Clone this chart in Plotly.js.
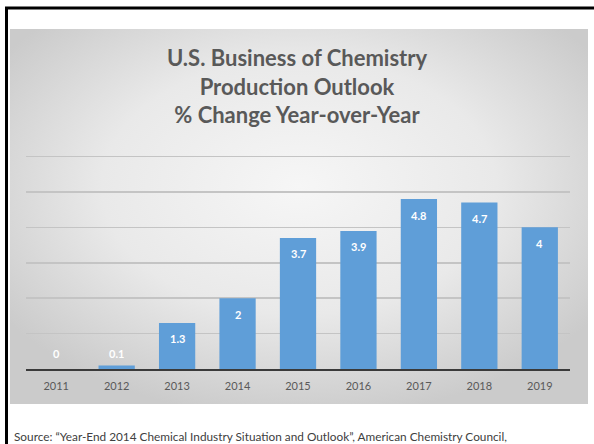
<!DOCTYPE html>
<html>
<head>
<meta charset="utf-8">
<script src="https://cdn.plot.ly/plotly-3.0.1.min.js"></script>
<style>
  html, body { margin: 0; padding: 0; background: #ffffff; }
  #chart { width: 594px; height: 444px; }
</style>
</head>
<body>
<div id="chart"></div>
<script>
// ---- data ----
const years = ['2011', '2012', '2013', '2014', '2015', '2016', '2017', '2018', '2019'];
const pctChange = [0, 0.1, 1.3, 2, 3.7, 3.9, 4.8, 4.7, 4];
const labels = ['0', '0.1', '1.3', '2', '3.7', '3.9', '4.8', '4.7', '4'];
const titleLines = ['U.S. Business of Chemistry', 'Production Outlook', '% Change Year-over-Year'];
const sourceText = 'Source: \u201cYear-End 2014 Chemical Industry Situation and Outlook\u201d, American Chemistry Council,';

// ---- geometry ----
const W = 594, H = 444;
const M = { l: 26, r: 24, t: 153, b: 75 };
const plotW = W - M.l - M.r, plotH = H - M.t - M.b;
const px2x = px => (px - M.l) / plotW;
const py2y = py => (H - M.b - py) / plotH;

const FONT = 'Lato, "Open Sans", sans-serif';
const barColor = '#5f9ed8';

const gradSvg = '<svg xmlns="http://www.w3.org/2000/svg" width="578" height="375" viewBox="0 0 578 375" preserveAspectRatio="none">' +
  '<defs><radialGradient id="g" cx="50%" cy="42%" r="62%">' +
  '<stop offset="0%" stop-color="#f6f6f6"/><stop offset="55%" stop-color="#e9e9e9"/><stop offset="100%" stop-color="#cbcbcb"/>' +
  '</radialGradient></defs><rect width="578" height="375" fill="url(#g)"/></svg>';

const trace = {
  type: 'bar',
  x: years,
  y: pctChange,
  marker: { color: barColor, line: { width: 0 } },
  hoverinfo: 'x+y'
};

// data labels, placed inside near bar top (or above base for short bars)
const minInside = 0.88;
const annotations = years.map((yr, i) => ({
  x: i,
  y: Math.max(pctChange[i], minInside),
  xref: 'x', yref: 'y',
  text: '<b>' + labels[i] + '</b>',
  showarrow: false,
  yshift: -16,
  yanchor: 'middle',
  font: { family: FONT, size: 11, color: '#ffffff' }
}));

annotations.push({
  xref: 'paper', yref: 'paper',
  x: px2x(12), y: py2y(436),
  xanchor: 'left', yanchor: 'middle',
  text: sourceText,
  showarrow: false,
  font: { family: FONT, size: 11.8, color: '#404040' }
});

const layout = {
  width: W, height: H,
  margin: M,
  paper_bgcolor: '#ffffff',
  plot_bgcolor: 'rgba(0,0,0,0)',
  showlegend: false,
  bargap: 0.4,
  title: {
    text: '<b>' + titleLines.join('<br>') + '</b>',
    font: { family: FONT, size: 22, color: '#595959' },
    x: 0.5, xref: 'container',
    y: 1 - 66 / H, yref: 'container', yanchor: 'top'
  },
  xaxis: {
    type: 'category',
    range: [-0.5, years.length - 0.5],
    showgrid: false,
    showline: true, linecolor: '#3a3a3a', linewidth: 2,
    ticks: '',
    ticklabelstandoff: 6,
    tickfont: { family: FONT, size: 11, color: '#595959' },
    fixedrange: true
  },
  yaxis: {
    range: [0, 6.1],
    dtick: 1,
    showgrid: true, gridcolor: '#c4c4c4', gridwidth: 1.5,
    zeroline: false,
    showticklabels: false,
    ticks: '',
    fixedrange: true
  },
  images: [{
    source: 'data:image/svg+xml;charset=utf-8,' + encodeURIComponent(gradSvg),
    xref: 'paper', yref: 'paper',
    x: px2x(10), y: py2y(29),
    sizex: px2x(588) - px2x(10), sizey: py2y(29) - py2y(404),
    xanchor: 'left', yanchor: 'top',
    sizing: 'stretch',
    layer: 'below'
  }],
  shapes: [
    { type: 'line', xref: 'paper', yref: 'paper', x0: px2x(5), x1: px2x(594), y0: py2y(8), y1: py2y(8), line: { color: '#000000', width: 3 } },
    { type: 'line', xref: 'paper', yref: 'paper', x0: px2x(6.5), x1: px2x(6.5), y0: py2y(7), y1: py2y(444), line: { color: '#000000', width: 3 } }
  ],
  annotations: annotations
};

Plotly.newPlot('chart', [trace], layout, { displayModeBar: false, staticPlot: true });
</script>
</body>
</html>
